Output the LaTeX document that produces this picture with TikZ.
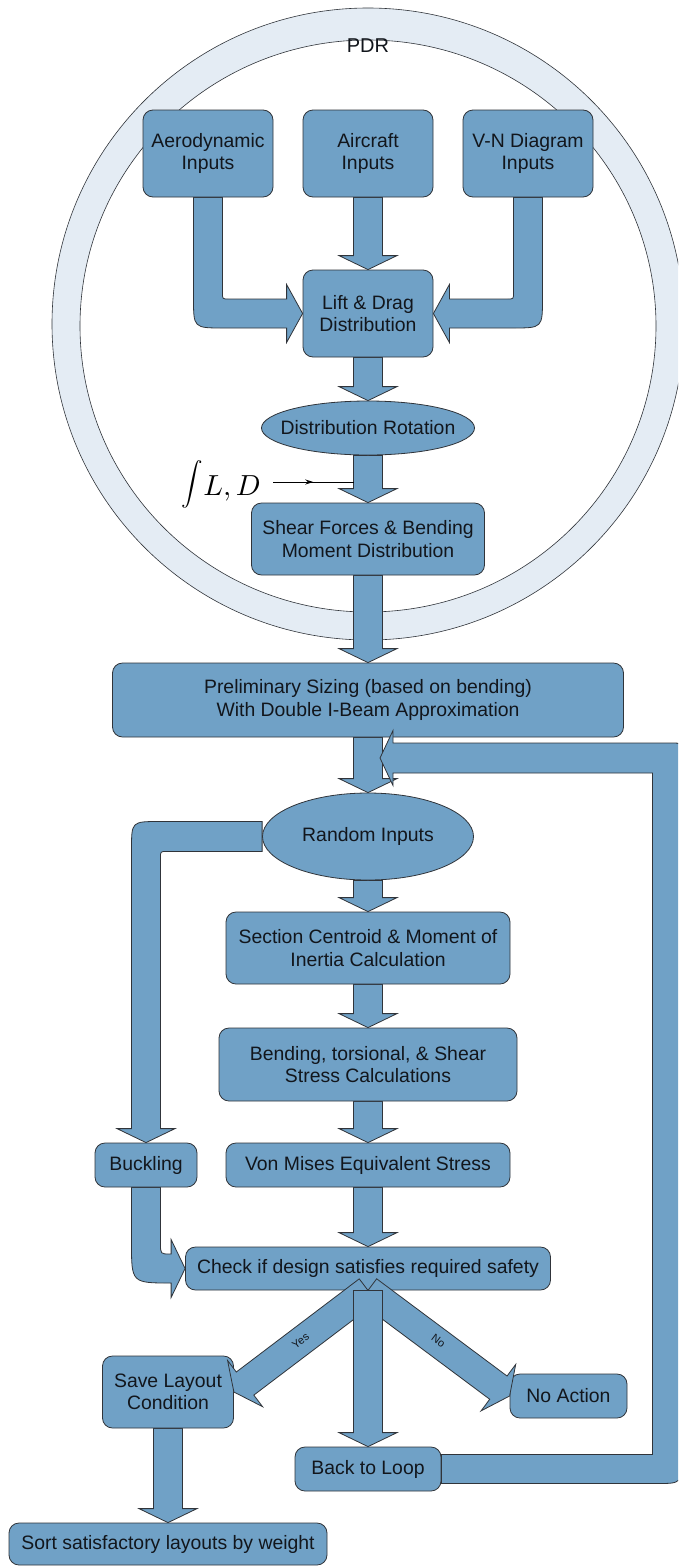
\documentclass[tikz,border=0pt]{standalone}
\usepackage{fontspec}
\setmainfont{Liberation Sans}
\usepackage{graphicx}
\usetikzlibrary{calc,shapes.geometric,decorations.markings,arrows.meta}
\definecolor{boxblue}{RGB}{112,161,198}
\definecolor{ringfill}{RGB}{228,236,244}
\definecolor{edgec}{RGB}{48,52,58}
\definecolor{txt}{RGB}{18,22,28}
\pgfdeclarelayer{ringlayer}
\pgfdeclarelayer{arrowlayer}
\pgfsetlayers{ringlayer,arrowlayer,main}
\newcommand{\mainfs}{\fontsize{19.4pt}{22.5pt}\selectfont}
\newcommand{\blockarr}[2]{%
  \coordinate (hd) at ($(#2)!14pt!(#1)$);
  \path[blockstyle] ($(#1)!14.5pt!90:(#2)$) -- ($(hd)!14.5pt!90:(#2)$) -- ($(hd)!29pt!90:(#2)$) -- (#2) -- ($(hd)!29pt!-90:(#2)$) -- ($(hd)!14.5pt!-90:(#2)$) -- ($(#1)!14.5pt!-90:(#2)$) -- cycle;}
\tikzset{
  box/.style={draw=edgec, fill=boxblue, rounded corners=10pt, line width=0.8pt, align=center, inner sep=0pt, text=txt, font=\mainfs},
  ell/.style={draw=edgec, fill=boxblue, ellipse, line width=0.8pt, inner sep=0pt, text=txt, font=\mainfs},
  blockstyle/.style={draw=edgec, fill=boxblue, line width=0.8pt, line join=miter},
  smalllbl/.style={text=txt, font=\fontsize{11pt}{12pt}\selectfont, inner sep=0pt}
}
\begin{document}
\begin{tikzpicture}[x=1pt, y=-1pt]
\useasboundingbox (0,0) rectangle (678,1566);
\clip (0,0) rectangle (678,1566);

% nodes
\node[text=txt, font=\fontsize{20pt}{22pt}\selectfont] (pdr) at (368,46) {PDR};
\node[box, minimum width=130pt, minimum height=87pt] (aero) at (208,153.5) {Aerodynamic\\Inputs};
\node[box, minimum width=130pt, minimum height=87pt] (aircraft) at (368,153.5) {Aircraft\\Inputs};
\node[box, minimum width=130pt, minimum height=87pt] (vn) at (528,153.5) {V-N Diagram\\Inputs};
\node[box, minimum width=130pt, minimum height=87pt] (lift) at (368,313.5) {Lift \& Drag\\Distribution};
\node[ell, minimum width=213pt, minimum height=54pt] (distrot) at (368,428) {\makebox[0pt]{Distribution Rotation}};
\node[box, minimum width=233pt, minimum height=72pt] (shear) at (368,539) {Shear Forces \& Bending\\Moment Distribution};
\node[box, minimum width=511pt, minimum height=74pt] (prelim) at (368,700) {Preliminary Sizing (based on bending)\\With Double I-Beam Approximation};
\node[ell, minimum width=211pt, minimum height=87pt] (random) at (368,836.5) {\makebox[0pt]{Random Inputs}};
\node[box, minimum width=284pt, minimum height=72pt] (section) at (368,948) {Section Centroid \& Moment of\\Inertia Calculation};
\node[box, minimum width=298pt, minimum height=73pt] (bending) at (368,1064.5) {Bending, torsional, \& Shear\\Stress Calculations};
\node[box, minimum width=284pt, minimum height=44pt] (vonmises) at (368,1165) {Von Mises Equivalent Stress};
\node[box, minimum width=102pt, minimum height=44pt] (buckling) at (146,1165) {Buckling};
\node[box, minimum width=365pt, minimum height=43pt] (check) at (368,1268.5) {Check if design satisfies required safety};
\node[box, minimum width=131pt, minimum height=72pt] (save) at (168,1392) {Save Layout\\Condition};
\node[box, minimum width=117pt, minimum height=44pt] (noaction) at (568.5,1396) {No Action};
\node[box, minimum width=146pt, minimum height=44pt] (back) at (368,1469) {Back to Loop};
\node[box, minimum width=318pt, minimum height=42pt] (sort) at (168,1544) {Sort satisfactory layouts by weight};

\node[anchor=east, inner sep=0pt, text=black] (intlabel) at (261,484) {\scalebox{2.15}{$\displaystyle\int$}\raisebox{-6pt}{\scalebox{2.9}{$L,D$}}};
\coordinate (intend) at (353.5,482);
\coordinate (loopin) at (380,758);
\coordinate (loopx) at (667,0);

% ring
\begin{pgfonlayer}{ringlayer}
  \clip (0,0) rectangle (678,1566);
  \fill[white] (0,0) rectangle (678,1566);
  \path[fill=ringfill, draw=edgec, line width=0.6pt, even odd rule]
    (368,324) circle[radius=316pt] (368,326) ellipse[x radius=288pt, y radius=286pt];
\end{pgfonlayer}

% arrows under the boxes
\begin{pgfonlayer}{arrowlayer}
  \blockarr{aircraft.south}{lift.north}
  \blockarr{lift.south}{distrot.north}
  \blockarr{distrot.south}{shear.north}
  \blockarr{shear.south}{prelim.north}
  \blockarr{prelim.south}{random.north}
  \blockarr{random.south}{section.north}
  \blockarr{section.south}{bending.north}
  \blockarr{bending.south}{vonmises.north}
  \blockarr{vonmises.south}{check.north}
  \blockarr{save.south}{sort.north}
  % Aerodynamic -> Lift
  \path[blockstyle] let \p1=(aero.south), \p2=(lift.west) in
    (\x1-14.5pt,\y1) -- (\x1-14.5pt,\y2+15.5pt) .. controls (\x1-14.5pt,\y2-14.5pt) .. (\x1+15.5pt,\y2-14.5pt)
    -- (\x2-16pt,\y2-14.5pt) -- (\x2-16pt,\y2-29pt) -- (\p2) -- (\x2-16pt,\y2+29pt) -- (\x2-16pt,\y2+14.5pt)
    -- (\x1+20.5pt,\y2+14.5pt) .. controls (\x1+14.5pt,\y2+14.5pt) .. (\x1+14.5pt,\y2+20.5pt) -- (\x1+14.5pt,\y1) -- cycle;
  % V-N -> Lift
  \path[blockstyle] let \p1=(vn.south), \p2=(lift.east) in
    (\x1+14.5pt,\y1) -- (\x1+14.5pt,\y2+15.5pt) .. controls (\x1+14.5pt,\y2-14.5pt) .. (\x1-15.5pt,\y2-14.5pt)
    -- (\x2+16pt,\y2-14.5pt) -- (\x2+16pt,\y2-29pt) -- (\p2) -- (\x2+16pt,\y2+29pt) -- (\x2+16pt,\y2+14.5pt)
    -- (\x1-20.5pt,\y2+14.5pt) .. controls (\x1-14.5pt,\y2+14.5pt) .. (\x1-14.5pt,\y2+20.5pt) -- (\x1-14.5pt,\y1) -- cycle;
  % Random -> Buckling
  \path[blockstyle] let \p1=(random.west), \p2=(buckling.north) in
    (\x1,\y1+15pt) -- (\x2+13.5pt,\y1+15pt) .. controls (\x2-14.5pt,\y1+15pt) .. (\x2-14.5pt,\y1-13pt)
    -- (\x2-14.5pt,\y2+14pt) -- (\x2-29pt,\y2+14pt) -- (\p2) -- (\x2+29pt,\y2+14pt) -- (\x2+14.5pt,\y2+14pt)
    -- (\x2+14.5pt,\y1-21pt) .. controls (\x2+14.5pt,\y1-15pt) .. (\x2+20.5pt,\y1-15pt) -- (\x1,\y1-15pt) -- cycle;
  % Buckling -> Check
  \path[blockstyle] let \p1=(buckling.south), \p2=(check.west) in
    (\x1-14.5pt,\y1) -- (\x1-14.5pt,\y2+25.5pt) .. controls (\x1-14.5pt,\y2-14.5pt) .. (\x1+25.5pt,\y2-14.5pt)
    -- (\x2-14pt,\y2-14.5pt) -- (\x2-14pt,\y2-29pt) -- (\p2) -- (\x2-14pt,\y2+29pt) -- (\x2-14pt,\y2+14.5pt)
    -- (\x1+24.5pt,\y2+14.5pt) .. controls (\x1+14.5pt,\y2+14.5pt) .. (\x1+14.5pt,\y2+24.5pt) -- (\x1+14.5pt,\y1) -- cycle;
  % integral input
  \draw[line width=0.8pt, draw=black, postaction={decorate},
        decoration={markings, mark=at position 0.5 with {\arrow{Stealth[length=8pt,width=5pt]}}}]
    ($(intlabel.east |- intend)+(12,0)$) -- (intend);
\end{pgfonlayer}

% arrows on top of the boxes
\blockarr{check.south}{save.east}
\blockarr{check.south}{noaction.west}
\blockarr{check.south}{back.north}
\node[smalllbl, rotate=37] (yeslbl) at (300.5,1341) {Yes};
\node[smalllbl, rotate=-37] (nolbl) at (438.5,1341) {No};

% loop back
\path[blockstyle] let \p1=(back.east), \p2=(loopin), \p3=(loopx) in
  (\x1,\y1+14.5pt) -- (\x3-14.5pt,\y1+14.5pt) -- (\x3-14.5pt,\y2-15pt) -- (\x2+13pt,\y2-15pt)
  -- (\x2+13pt,\y2-27.5pt) -- (\p2) -- (\x2+13pt,\y2+27.5pt) -- (\x2+13pt,\y2+15pt)
  -- (\x3+4.5pt,\y2+15pt) .. controls (\x3+14.5pt,\y2+15pt) .. (\x3+14.5pt,\y2+5pt)
  -- (\x3+14.5pt,\y1+10.5pt) .. controls (\x3+14.5pt,\y1-14.5pt) .. (\x3-10.5pt,\y1-14.5pt)
  -- (\x1,\y1-14.5pt) -- cycle;
\end{tikzpicture}
\end{document}
